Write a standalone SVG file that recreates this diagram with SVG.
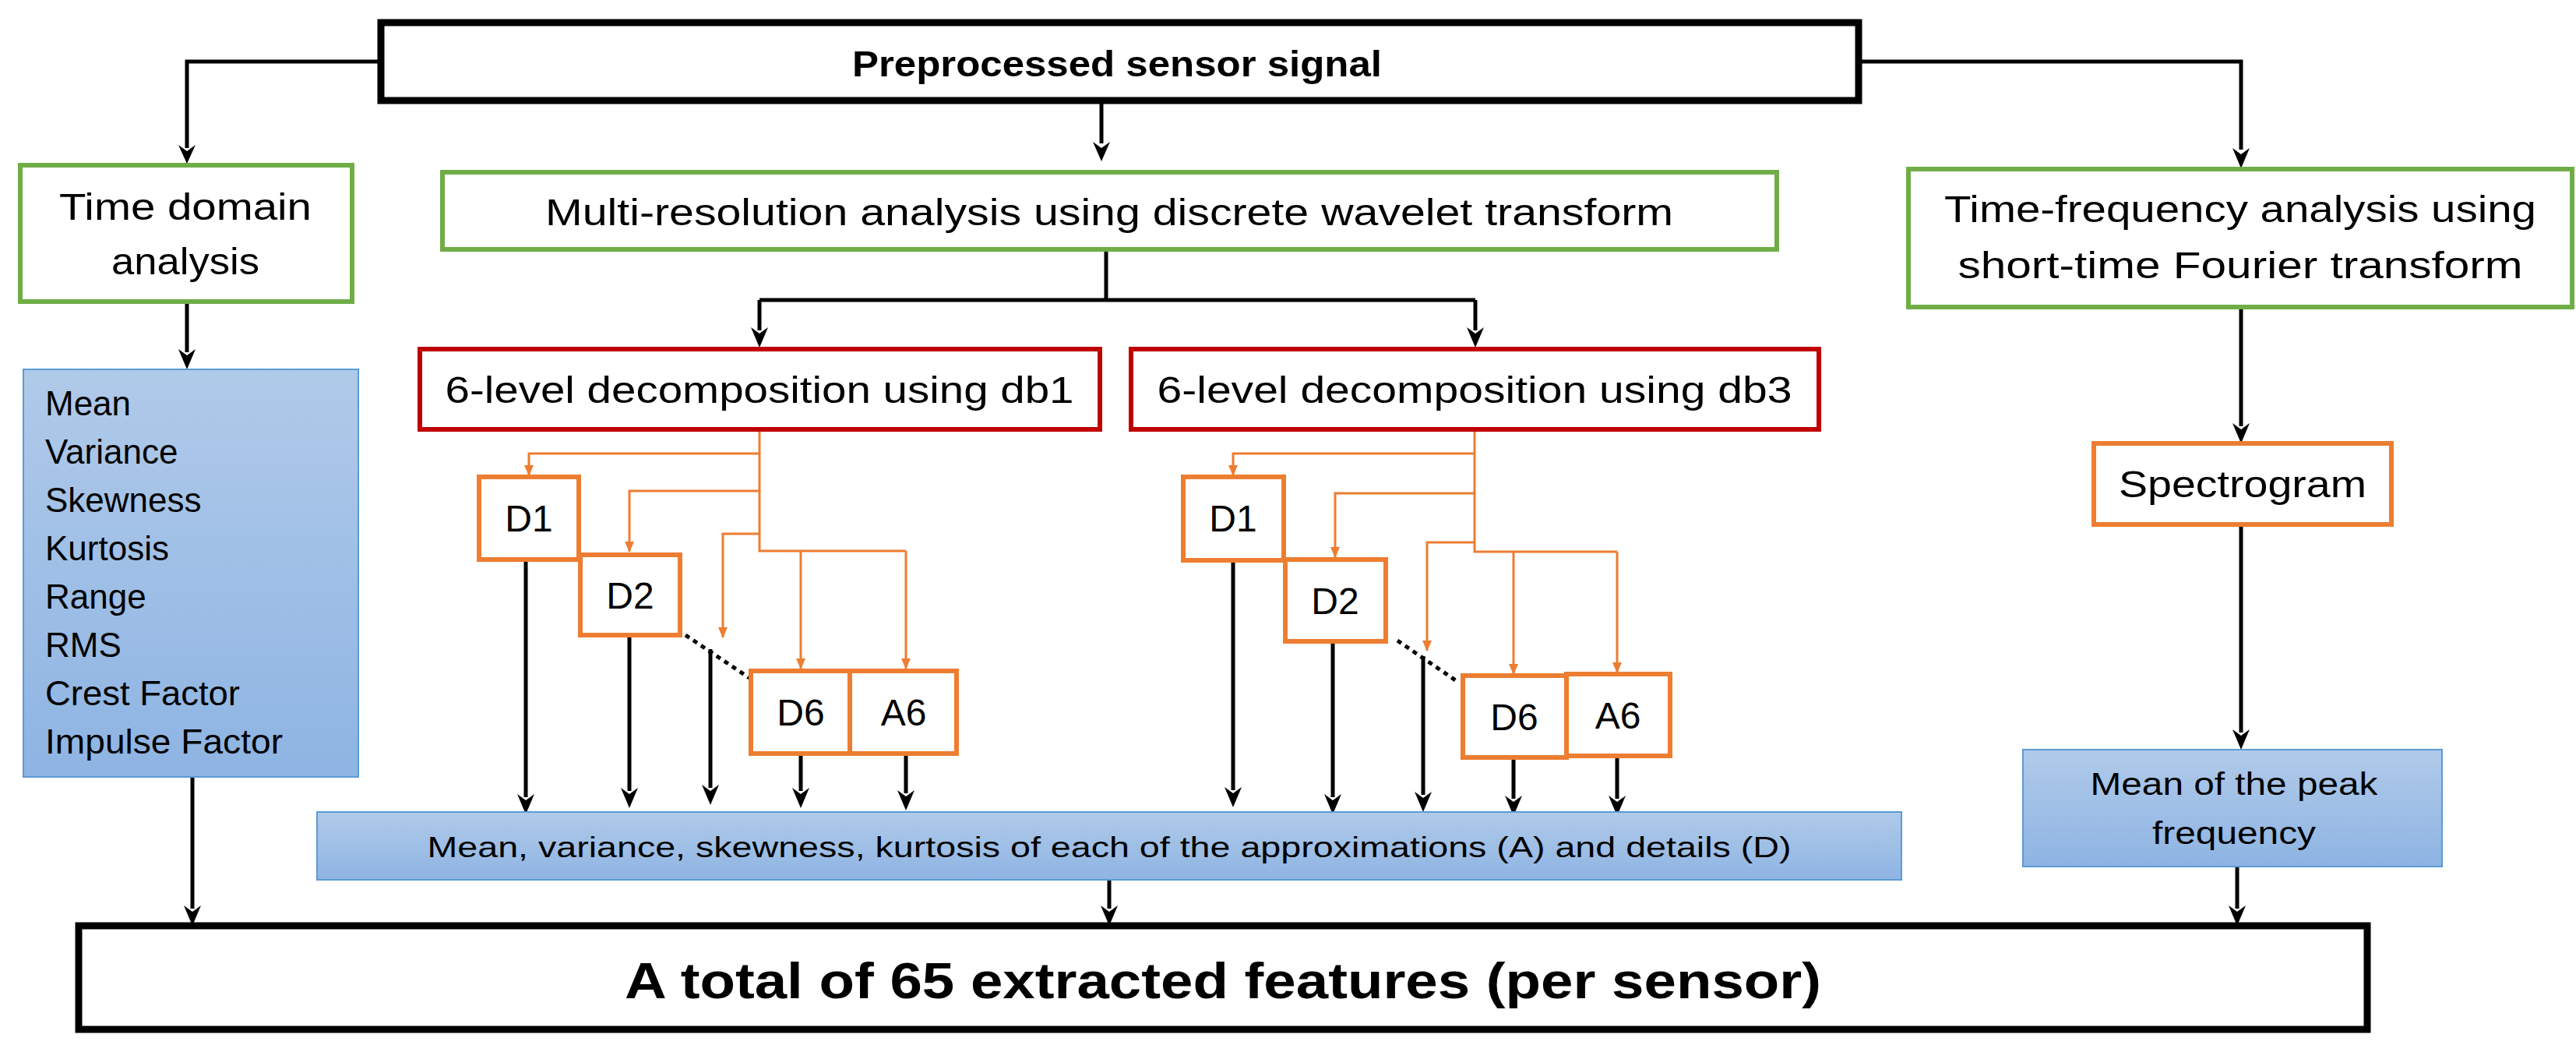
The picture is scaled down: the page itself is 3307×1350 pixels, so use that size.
<svg xmlns="http://www.w3.org/2000/svg" width="3307" height="1350" viewBox="0 0 3307 1350">
<style>
text{font-family:"Liberation Sans",Arial,sans-serif;fill:#000}
.t{font-size:48px}
.b{font-weight:bold}
.blk{fill:#fff;stroke:#000;stroke-width:9}
.grn{fill:#fff;stroke:#70AD47;stroke-width:6}
.red{fill:#fff;stroke:#C00000;stroke-width:6}
.org{fill:#fff;stroke:#ED7D31;stroke-width:6}
.blu{fill:url(#g);stroke:#5B9BD5;stroke-width:2}
.ck0{fill:none;stroke:#000;stroke-width:5}
.co{fill:none;stroke:#ED7D31;stroke-width:3;marker-end:url(#ao)}
.co0{fill:none;stroke:#ED7D31;stroke-width:3}
</style>
<defs>
<linearGradient id="g" x1="0" y1="0" x2="0" y2="1"><stop offset="0" stop-color="#B0CAE9"/><stop offset="1" stop-color="#8EB4E3"/></linearGradient>
<marker id="ao" markerWidth="14" markerHeight="12" refX="13" refY="6" orient="auto" markerUnits="userSpaceOnUse"><path d="M0,0 L14,6 L0,12 Z" fill="#ED7D31"/></marker>
</defs>
<g id="connectors">
<path class="ck0" d="M489,79 H240 V190"/>
<path d="M229,186 L240,210 L251,186 L240,194 Z"/>
<path class="ck0" d="M1414,129 V184"/><path d="M1403,182 L1414,207 L1425,182 L1414,190 Z"/>
<path class="ck0" d="M2386,79 H2877 V192"/><path d="M2866,190 L2877,216 L2888,190 L2877,198 Z"/>
<path class="ck0" d="M1420,320 V385 M975,385 H1894 M975,385 V424 M1894,385 V424"/>
<path d="M964,420 L975,446 L986,420 L975,428 Z M1883,420 L1894,446 L1905,420 L1894,428 Z"/>
<path class="ck0" d="M240,387 V452"/><path d="M229,448 L240,474 L251,448 L240,456 Z"/>
<path class="ck0" d="M2877,394 V547"/><path d="M2866,543 L2877,569 L2888,543 L2877,551 Z"/>
<path class="ck0" d="M2877,673 V940"/><path d="M2866,936 L2877,962 L2888,936 L2877,944 Z"/>
<path class="ck0" d="M247,997 V1166 M1424,1129 V1166 M2872,1112 V1166"/>
<path d="M236,1162 L247,1188 L258,1162 L247,1170 Z M1413,1162 L1424,1188 L1435,1162 L1424,1170 Z M2861,1162 L2872,1188 L2883,1162 L2872,1170 Z"/>
<path class="co0" d="M975,551 V707 H1163"/>
<path class="co" d="M975,582 H679 V610"/>
<path class="co" d="M975,630 H808 V708"/>
<path class="co" d="M975,685 H928 V818"/>
<path class="co" d="M1028,707 V858"/>
<path class="co" d="M1163,707 V858"/>
<path d="M880,815 L962,870" stroke="#000" stroke-width="5" stroke-dasharray="6,6" fill="none"/>
<path class="co0" d="M1893,551 V708 H2076"/>
<path class="co" d="M1893,582 H1583 V610"/>
<path class="co" d="M1893,633 H1714 V715"/>
<path class="co" d="M1893,696 H1832 V835"/>
<path class="co" d="M1943,708 V865"/>
<path class="co" d="M2076,708 V863"/>
<path d="M1794,822 L1870,874" stroke="#000" stroke-width="5" stroke-dasharray="6,6" fill="none"/>
<path class="ck0" d="M675,718 V1023 M808,815 V1015 M912,833 V1011 M1028,967 V1015 M1163,967 V1018 M1583,719 V1014 M1711,823 V1023 M1827,842 V1020 M1943,972 V1025 M2076,970 V1025"/>
<path d="M664,1019 L675,1045 L686,1019 L675,1027 Z M797,1011 L808,1037 L819,1011 L808,1019 Z M901,1007 L912,1033 L923,1007 L912,1015 Z M1017,1011 L1028,1037 L1039,1011 L1028,1019 Z M1152,1014 L1163,1040 L1174,1014 L1163,1022 Z M1572,1010 L1583,1036 L1594,1010 L1583,1018 Z M1700,1019 L1711,1045 L1722,1019 L1711,1027 Z M1816,1016 L1827,1042 L1838,1016 L1827,1024 Z M1932,1021 L1943,1047 L1954,1021 L1943,1029 Z M2065,1021 L2076,1047 L2087,1021 L2076,1029 Z"/>
</g>
<g id="preprocessed"><rect class="blk" x="489" y="29" width="1897" height="100"/><text class="b" x="1434" y="98" font-size="46" text-anchor="middle" textLength="680" lengthAdjust="spacingAndGlyphs">Preprocessed sensor signal</text></g>
<g id="timedomain"><rect class="grn" x="26" y="212" width="426" height="175"/><text class="t" x="238" y="282" text-anchor="middle" textLength="324" lengthAdjust="spacingAndGlyphs">Time domain</text><text class="t" x="238" y="352" text-anchor="middle" textLength="190" lengthAdjust="spacingAndGlyphs">analysis</text></g>
<g id="mra"><rect class="grn" x="568" y="221" width="1713" height="99"/><text class="t" x="1424" y="289" text-anchor="middle" textLength="1448" lengthAdjust="spacingAndGlyphs">Multi-resolution analysis using discrete wavelet transform</text></g>
<g id="tf"><rect class="grn" x="2450" y="217" width="852" height="177"/><text class="t" x="2876" y="285" text-anchor="middle" textLength="760" lengthAdjust="spacingAndGlyphs">Time-frequency analysis using</text><text class="t" x="2876" y="357" text-anchor="middle" textLength="725" lengthAdjust="spacingAndGlyphs">short-time Fourier transform</text></g>
<g id="db1"><rect class="red" x="539" y="448" width="873" height="103"/><text class="t" x="975" y="517" text-anchor="middle" textLength="807" lengthAdjust="spacingAndGlyphs">6-level decomposition using db1</text></g>
<g id="db3"><rect class="red" x="1452" y="448" width="883" height="103"/><text class="t" x="1893" y="517" text-anchor="middle" textLength="815" lengthAdjust="spacingAndGlyphs">6-level decomposition using db3</text></g>
<g id="spectrogram"><rect class="org" x="2688" y="569" width="382" height="104"/><text class="t" x="2879" y="638" text-anchor="middle" textLength="318" lengthAdjust="spacingAndGlyphs">Spectrogram</text></g>
<g id="db1_D1"><rect class="org" x="615" y="612" width="128" height="106"/><text class="t" x="679" y="682" text-anchor="middle">D1</text></g>
<g id="db1_D2"><rect class="org" x="745" y="712" width="128" height="103"/><text class="t" x="809" y="781" text-anchor="middle">D2</text></g>
<g id="db1_D6"><rect class="org" x="964" y="861" width="127" height="106"/><text class="t" x="1028" y="931" text-anchor="middle">D6</text></g>
<g id="db1_A6"><rect class="org" x="1091" y="861" width="137" height="106"/><text class="t" x="1160" y="931" text-anchor="middle">A6</text></g>
<g id="db3_D1"><rect class="org" x="1519" y="612" width="129" height="107"/><text class="t" x="1583" y="682" text-anchor="middle">D1</text></g>
<g id="db3_D2"><rect class="org" x="1650" y="718" width="129" height="105"/><text class="t" x="1714" y="788" text-anchor="middle">D2</text></g>
<g id="db3_D6"><rect class="org" x="1878" y="867" width="133" height="105"/><text class="t" x="1944" y="937" text-anchor="middle">D6</text></g>
<g id="db3_A6"><rect class="org" x="2011" y="865" width="133" height="105"/><text class="t" x="2077" y="935" text-anchor="middle">A6</text></g>
<g id="timefeatures"><rect class="blu" x="30" y="474" width="430" height="523"/>
<g font-size="44"><text x="58" y="533">Mean</text><text x="58" y="595">Variance</text><text x="58" y="657">Skewness</text><text x="58" y="719">Kurtosis</text><text x="58" y="781">Range</text><text x="58" y="843">RMS</text><text x="58" y="905" textLength="250" lengthAdjust="spacingAndGlyphs">Crest Factor</text><text x="58" y="967" textLength="305" lengthAdjust="spacingAndGlyphs">Impulse Factor</text></g></g>
<g id="wavfeatures"><rect class="blu" x="407" y="1042" width="2034" height="87"/><text x="1424" y="1100" font-size="36" text-anchor="middle" textLength="1751" lengthAdjust="spacingAndGlyphs">Mean, variance, skewness, kurtosis of each of the approximations (A) and details (D)</text></g>
<g id="peak"><rect class="blu" x="2597" y="962" width="538" height="150"/><text x="2868" y="1020" font-size="40" text-anchor="middle" textLength="369" lengthAdjust="spacingAndGlyphs">Mean of the peak</text><text x="2868" y="1083" font-size="40" text-anchor="middle" textLength="210" lengthAdjust="spacingAndGlyphs">frequency</text></g>
<g id="total"><rect class="blk" x="101" y="1188" width="2938" height="133"/><text class="b" x="1570" y="1281" font-size="64" text-anchor="middle" textLength="1536" lengthAdjust="spacingAndGlyphs">A total of 65 extracted features (per sensor)</text></g>
</svg>
